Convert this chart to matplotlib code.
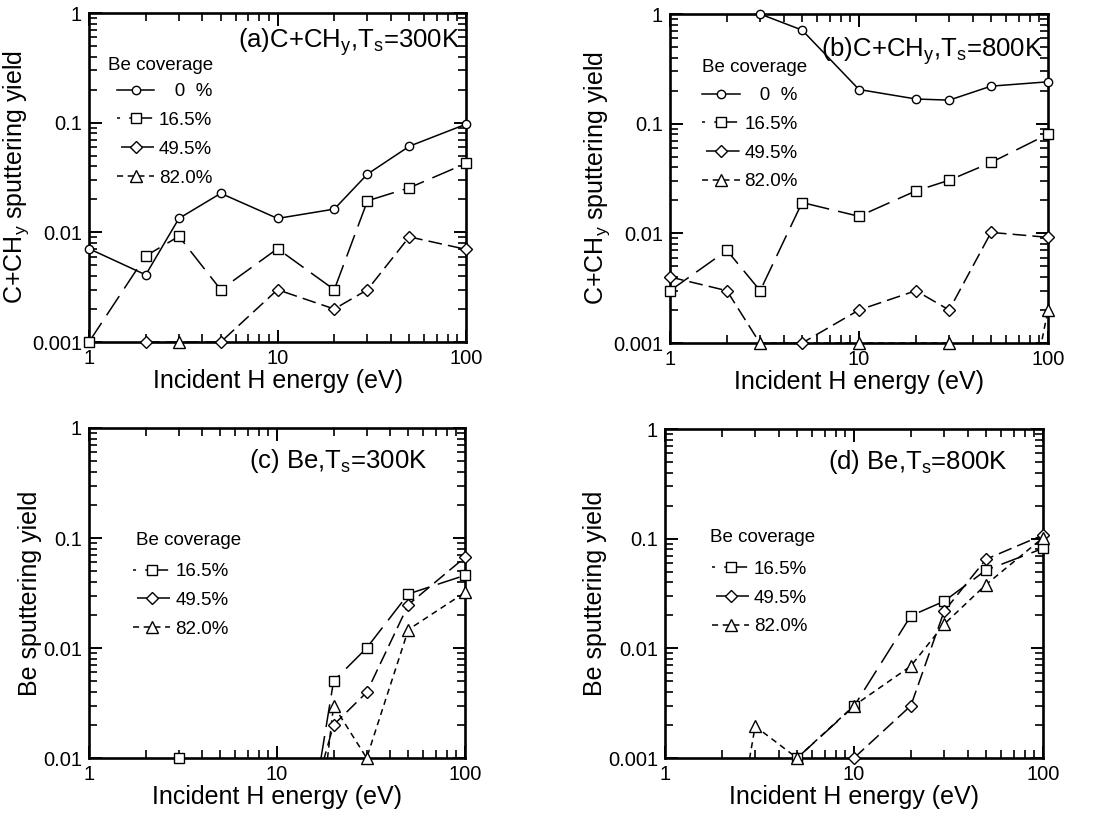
import matplotlib
matplotlib.use('Agg')
import matplotlib.pyplot as plt
from matplotlib.lines import Line2D
from matplotlib.ticker import NullFormatter

plt.rcParams['font.family'] = ['Liberation Sans', 'DejaVu Sans']
plt.rcParams['mathtext.fontset'] = 'custom'
plt.rcParams['mathtext.rm'] = 'Liberation Sans'
plt.rcParams['mathtext.it'] = 'Liberation Sans:italic'
plt.rcParams['mathtext.default'] = 'regular'

# Be coverage labels
coverage = ['   0  %', '16.5%', '49.5%', '82.0%']

# (a) C+CHy sputtering yield, Ts = 300 K
a_e0 = [1, 2, 3, 5, 10, 20, 30, 50, 100]
a_y0 = [0.0071, 0.0041, 0.0134, 0.0227, 0.0134, 0.0163, 0.034, 0.061, 0.097]
a_e16 = [1, 2, 3, 5, 10, 20, 30, 50, 100]
a_y16 = [0.001, 0.0061, 0.0092, 0.0030, 0.0071, 0.0030, 0.0194, 0.0255, 0.0426]
a_e49 = [2, 5, 10, 20, 30, 50, 100]
a_y49 = [0.001, 0.001, 0.0030, 0.0020, 0.0030, 0.0091, 0.0070]
a_e82 = [3]
a_y82 = [0.001]

# (b) C+CHy sputtering yield, Ts = 800 K
b_e0 = [3, 5, 10, 20, 30, 50, 100]
b_y0 = [1.0, 0.714, 0.205, 0.168, 0.164, 0.220, 0.241]
b_e16 = [1, 2, 3, 5, 10, 20, 30, 50, 100]
b_y16 = [0.0030, 0.0070, 0.0030, 0.0191, 0.0143, 0.0244, 0.0305, 0.0443, 0.0803]
b_e49 = [1, 2, 3, 5, 10, 20, 30, 50, 100]
b_y49 = [0.0040, 0.0030, 0.00099, 0.001, 0.0020, 0.0030, 0.0020, 0.0102, 0.0092]
b_e82 = [3, 10, 30, 50, 100]
b_y82 = [0.001, 0.001, 0.001, 5e-6, 0.0020]

# (c) Be sputtering yield, Ts = 300 K
c_e16 = [3, 10, 20, 30, 50, 100]
c_y16 = [0.001, 3.5e-6, 0.0050, 0.0100, 0.031, 0.0458]
c_e49 = [10, 20, 30, 50, 100]
c_y49 = [3e-5, 0.0020, 0.00395, 0.0248, 0.0667]
c_e82 = [10, 20, 30, 50, 100]
c_y82 = [1e-7, 0.0030, 0.001, 0.0147, 0.032]

# (d) Be sputtering yield, Ts = 800 K
d_e16 = [5, 10, 20, 30, 50, 100]
d_y16 = [0.001, 0.00296, 0.0198, 0.0269, 0.0517, 0.0815]
d_e49 = [10, 20, 30, 50, 100]
d_y49 = [0.001, 0.0030, 0.0218, 0.065, 0.108]
d_e82 = [2, 3, 5, 10, 20, 30, 50, 100]
d_y82 = [3.4e-5, 0.00195, 0.001, 0.0030, 0.0069, 0.0166, 0.0382, 0.102]

x_ticks = [1, 10, 100]
x_ticklabels = ['1', '10', '100']
y_ticks = [0.001, 0.01, 0.1, 1]
y_ticklabels = ['0.001', '0.01', '0.1', '1']
y_ticklabels_c = ['0.01', '0.01', '0.1', '1']

# line style per coverage: marker, dash pattern, marker size
markers = ['o', 's', 'D', '^']
dashes = ['-', (0, (15, 6)), (0, (9, 4)), (0, (4, 3))]
legend_dashes = ['-', (13, (15, 6)), (10.4, (9, 4)), (0, (4, 3))]
msizes = [6, 7.5, 6.3, 8]


def draw_series(ax, x, y, k):
    # line is clipped to the axes, markers sit on top of the frame
    ax.plot(x, y, color='k', lw=1.1, ls=dashes[k], zorder=2)
    xs = [e for e, v in zip(x, y) if v >= 0.001]
    ys = [v for v in y if v >= 0.001]
    ax.plot(xs, ys, ls='none', marker=markers[k], ms=msizes[k], mfc='white',
            mec='k', mew=1.0, clip_on=False, zorder=4)


def setup_axes(ax, ylabel, yticklabels):
    ax.set_xscale('log')
    ax.set_yscale('log')
    ax.set_xlim(1, 100)
    ax.set_ylim(0.001, 1)
    ax.set_xticks(x_ticks)
    ax.set_xticklabels(x_ticklabels)
    ax.set_yticks(y_ticks)
    ax.set_yticklabels(yticklabels)
    ax.xaxis.set_minor_formatter(NullFormatter())
    ax.yaxis.set_minor_formatter(NullFormatter())
    ax.tick_params(which='major', direction='in', length=9, width=1.4,
                   top=True, right=True, labelsize=14.5, pad=5)
    ax.tick_params(which='minor', direction='in', length=5.5, width=1.2,
                   top=True, right=True)
    for sp in ax.spines.values():
        sp.set_linewidth(1.9)
    ax.set_xlabel('Incident H energy (eV)', fontsize=18, labelpad=1)
    ax.set_ylabel(ylabel, fontsize=18, labelpad=1)


def add_legend(ax, idx, title_xy, leg_xy):
    ax.text(title_xy[0], title_xy[1], 'Be coverage', transform=ax.transAxes,
            fontsize=13.5, ha='left', va='center')
    handles = [Line2D([], [], color='k', lw=1.1, ls=legend_dashes[k],
                      marker=markers[k], ms=msizes[k], mfc='white', mec='k',
                      mew=1.0) for k in idx]
    ax.legend(handles, [coverage[k] for k in idx], loc='upper left',
              bbox_to_anchor=leg_xy, frameon=False, fontsize=13.5,
              borderpad=0, borderaxespad=0, handlelength=2.0,
              handletextpad=0.25, labelspacing=0.62)


fig = plt.figure(figsize=(10.93, 8.21), dpi=100)
ax_a = fig.add_axes([0.0814, 0.5834, 0.345, 0.4007])
ax_b = fig.add_axes([0.613, 0.5822, 0.3458, 0.4007])
ax_c = fig.add_axes([0.0814, 0.0767, 0.344, 0.402])
ax_d = fig.add_axes([0.6084, 0.0767, 0.3458, 0.4007])

# (a)
draw_series(ax_a, a_e0, a_y0, 0)
draw_series(ax_a, a_e16, a_y16, 1)
draw_series(ax_a, a_e49, a_y49, 2)
draw_series(ax_a, a_e82, a_y82, 3)
setup_axes(ax_a, 'C+CH$_y$ sputtering yield', y_ticklabels)
ax_a.text(0.984, 0.895, '(a)C+CH$_y$,T$_s$=300K', transform=ax_a.transAxes,
          fontsize=18.5, ha='right', va='baseline')
add_legend(ax_a, [0, 1, 2, 3], (0.05, 0.842), (0.074, 0.787))

# (b)
draw_series(ax_b, b_e0, b_y0, 0)
draw_series(ax_b, b_e16, b_y16, 1)
draw_series(ax_b, b_e49, b_y49, 2)
draw_series(ax_b, b_e82, b_y82, 3)
setup_axes(ax_b, 'C+CH$_y$ sputtering yield', y_ticklabels)
ax_b.text(0.987, 0.869, '(b)C+CH$_y$,T$_s$=800K', transform=ax_b.transAxes,
          fontsize=18.5, ha='right', va='baseline')
add_legend(ax_b, [0, 1, 2, 3], (0.085, 0.839), (0.085, 0.778))

# (c)
draw_series(ax_c, c_e16, c_y16, 1)
draw_series(ax_c, c_e49, c_y49, 2)
draw_series(ax_c, c_e82, c_y82, 3)
setup_axes(ax_c, 'Be sputtering yield', y_ticklabels_c)
ax_c.text(0.90, 0.879, '(c) Be,T$_s$=300K', transform=ax_c.transAxes,
          fontsize=18.5, ha='right', va='baseline')
add_legend(ax_c, [1, 2, 3], (0.125, 0.658), (0.117, 0.591))

# (d)
draw_series(ax_d, d_e16, d_y16, 1)
draw_series(ax_d, d_e49, d_y49, 2)
draw_series(ax_d, d_e82, d_y82, 3)
setup_axes(ax_d, 'Be sputtering yield', y_ticklabels)
ax_d.text(0.907, 0.879, '(d) Be,T$_s$=800K', transform=ax_d.transAxes,
          fontsize=18.5, ha='right', va='baseline')
add_legend(ax_d, [1, 2, 3], (0.119, 0.67), (0.124, 0.600))

fig.savefig('out.png', dpi=100)
